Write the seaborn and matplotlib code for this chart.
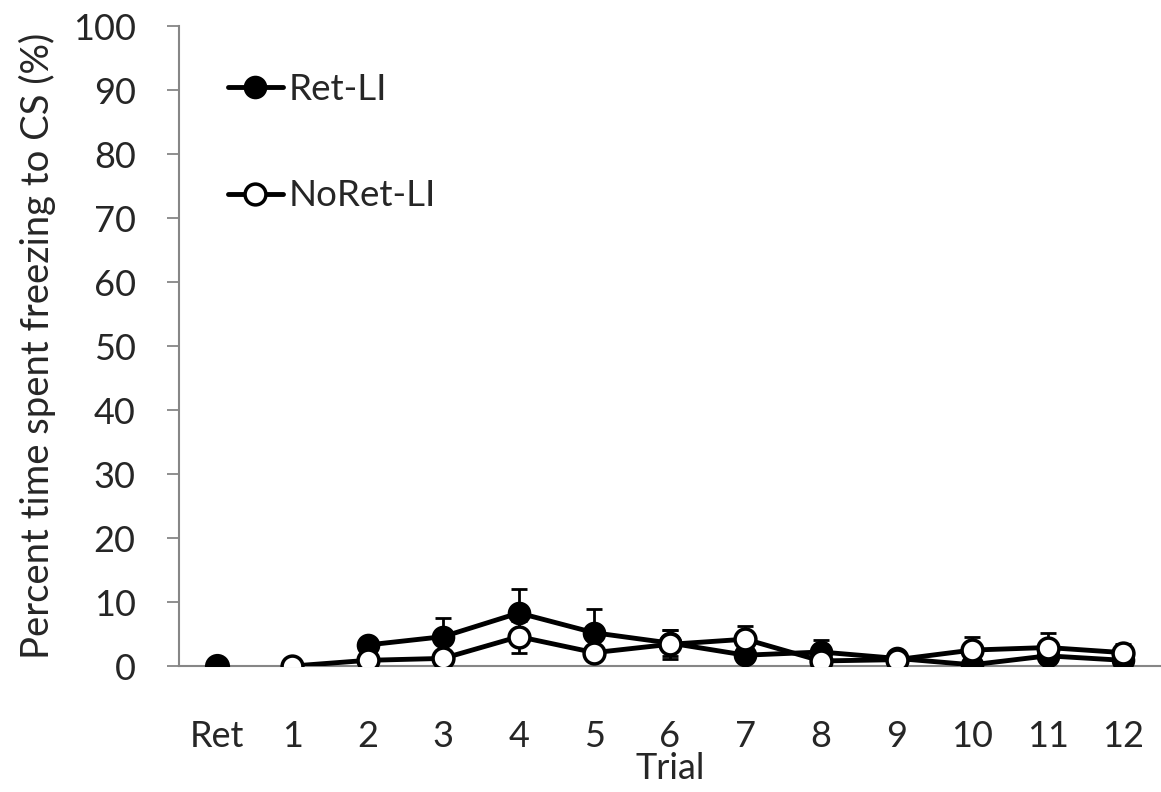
import numpy as np
import seaborn as sns
import matplotlib.pyplot as plt

# values
trials = ["Ret", "1", "2", "3", "4", "5", "6", "7", "8", "9", "10", "11", "12"]
ret_li = [0, np.nan, 3.3, 4.6, 8.3, 5.2, 3.6, 1.7, 2.2, 1.2, 0.2, 1.6, 0.9]
ret_li_err = [0, np.nan, 0.8, 2.9, 3.8, 3.7, 2.0, 1.0, 1.9, 0.5, 0.5, 0.8, 0.5]
noret_li = [np.nan, 0, 0.9, 1.2, 4.6, 2.1, 3.4, 4.2, 0.8, 1.0, 2.5, 2.9, 2.1]
noret_li_err = [np.nan, 0, 0.5, 0.5, 2.5, 0.8, 2.3, 2.1, 0.5, 0.3, 2.1, 2.2, 1.4]

sns.set_style("white")
plt.rcParams['font.family'] = ['Lato', 'DejaVu Sans']

fig = plt.figure(figsize=(11.61, 7.92), dpi=100)
ax = fig.add_axes([0.154, 0.159, 0.846, 0.808])

x = np.arange(len(trials))
grey = "#868686"

# error bars first so markers sit on top
for vals, errs in [(ret_li, ret_li_err), (noret_li, noret_li_err)]:
    v = np.array(vals, dtype=float)
    e = np.array(errs, dtype=float)
    ok = ~np.isnan(v) & (e > 0)
    ax.errorbar(x[ok], v[ok], yerr=e[ok], fmt="none", ecolor="black",
                elinewidth=2, capsize=6, capthick=2, zorder=1)

# Ret-LI: lone retrieval point, then trials 2-12
r = np.array(ret_li, dtype=float)
sns.scatterplot(x=x[:1], y=r[:1], ax=ax, color="black", s=260,
                edgecolor="black", linewidth=2, zorder=3)
sns.lineplot(x=x[2:], y=r[2:], ax=ax, color="black", lw=3.5, marker="o",
             markersize=15, markerfacecolor="black", markeredgecolor="black",
             markeredgewidth=2, zorder=3, label="Ret-LI")

# NoRet-LI: trials 1-12
n = np.array(noret_li, dtype=float)
sns.lineplot(x=x[1:], y=n[1:], ax=ax, color="black", lw=3.5, marker="o",
             markersize=15, markerfacecolor="white", markeredgecolor="black",
             markeredgewidth=2.5, zorder=4, label="NoRet-LI")

ax.set_xlim(-0.5, 12.5)
ax.set_ylim(0, 100)
ax.set_yticks(range(0, 101, 10))
ax.set_xticks(x)
ax.set_xticklabels(trials)
ax.tick_params(axis="y", labelsize=26, length=9, width=1.3, color=grey,
               direction="out", left=True, pad=22)
ax.tick_params(axis="x", labelsize=26, length=0, pad=39)

for side in ["top", "right"]:
    ax.spines[side].set_visible(False)
for side in ["left", "bottom"]:
    ax.spines[side].set_color(grey)
    ax.spines[side].set_linewidth(1.5)

ax.set_xlabel("Trial", fontsize=26, labelpad=-1)
ax.set_ylabel("Percent time spent freezing to CS (%)", fontsize=27.5, labelpad=12)

ax.legend(loc="upper left", bbox_to_anchor=(0.035, 0.95), frameon=False,
          fontsize=26.5, handlelength=1.5, handletextpad=0.15, labelspacing=2.0,
          borderaxespad=0)

fig.savefig("out.png", dpi=100)
